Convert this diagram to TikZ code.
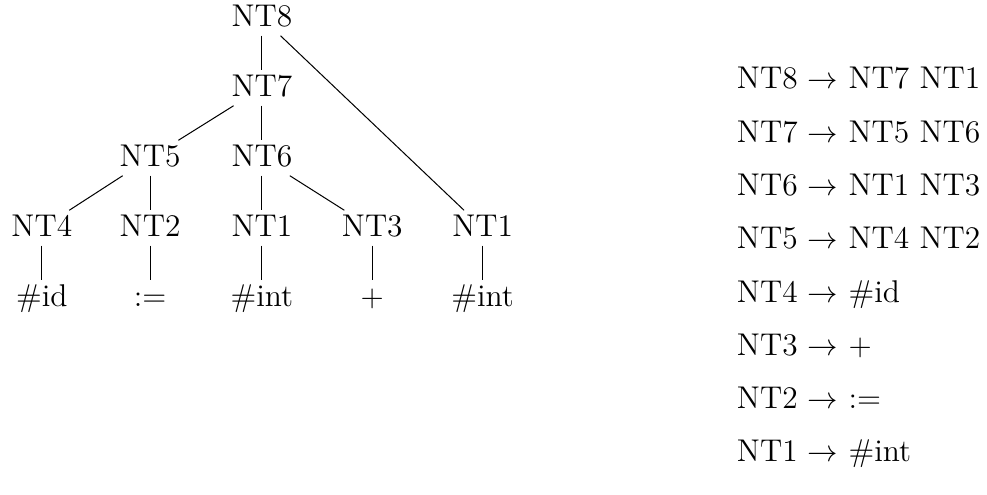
\documentclass[tikz,border=0pt]{standalone}
\usetikzlibrary{positioning}

\begin{document}
\begin{tikzpicture}
% Styles
\tikzset{
    every node/.style={font=\fontsize{12.4pt}{15pt}\selectfont},
    tnode/.style={text height=1.6ex, text depth=0ex},
    rule/.style={anchor=base west}
}

\useasboundingbox (0, 0) rectangle (13.68, 6.86);

% Nodes
\node[tnode] (NT8) at (3.63, 6.61) {NT8};
\node[tnode] (NT7) at (3.63, 5.64) {NT7};
\node[tnode] (NT5) at (2.08, 4.67) {NT5};
\node[tnode] (NT6) at (3.63, 4.67) {NT6};
\node[tnode] (NT4) at (0.58, 3.70) {NT4};
\node[tnode] (NT2) at (2.08, 3.70) {NT2};
\node[tnode] (NT1a) at (3.63, 3.70) {NT1};
\node[tnode] (NT3) at (5.16, 3.70) {NT3};
\node[tnode] (NT1b) at (6.69, 3.70) {NT1};

\node[tnode] (ID) at (0.58, 2.73) {\#id};
\node[tnode] (ASSIGN) at (2.08, 2.73) {:=};
\node[tnode] (INT1) at (3.63, 2.73) {\#int};
\node[tnode] (PLUS) at (5.16, 2.73) {$+$};
\node[tnode] (INT2) at (6.69, 2.73) {\#int};

% Connections
\draw (NT8) -- (NT7);
\draw (NT8) -- (NT1b);
\draw (NT7) -- (NT5);
\draw (NT7) -- (NT6);
\draw (NT5) -- (NT4);
\draw (NT5) -- (NT2);
\draw (NT6) -- (NT1a);
\draw (NT6) -- (NT3);
\draw (NT4) -- (ID);
\draw (NT2) -- (ASSIGN);
\draw (NT1a) -- (INT1);
\draw (NT3) -- (PLUS);
\draw (NT1b) -- (INT2);

% Rules
\foreach \i/\r in {0/{NT8 $\rightarrow$ NT7 NT1},
                   1/{NT7 $\rightarrow$ NT5 NT6},
                   2/{NT6 $\rightarrow$ NT1 NT3},
                   3/{NT5 $\rightarrow$ NT4 NT2},
                   4/{NT4 $\rightarrow$ \#id},
                   5/{NT3 $\rightarrow$ $+$},
                   6/{NT2 $\rightarrow$ :=},
                   7/{NT1 $\rightarrow$ \#int}}
    \node[rule] (R\i) at (10.09, 5.63 - 0.739*\i) {\r};
\end{tikzpicture}
\end{document}
